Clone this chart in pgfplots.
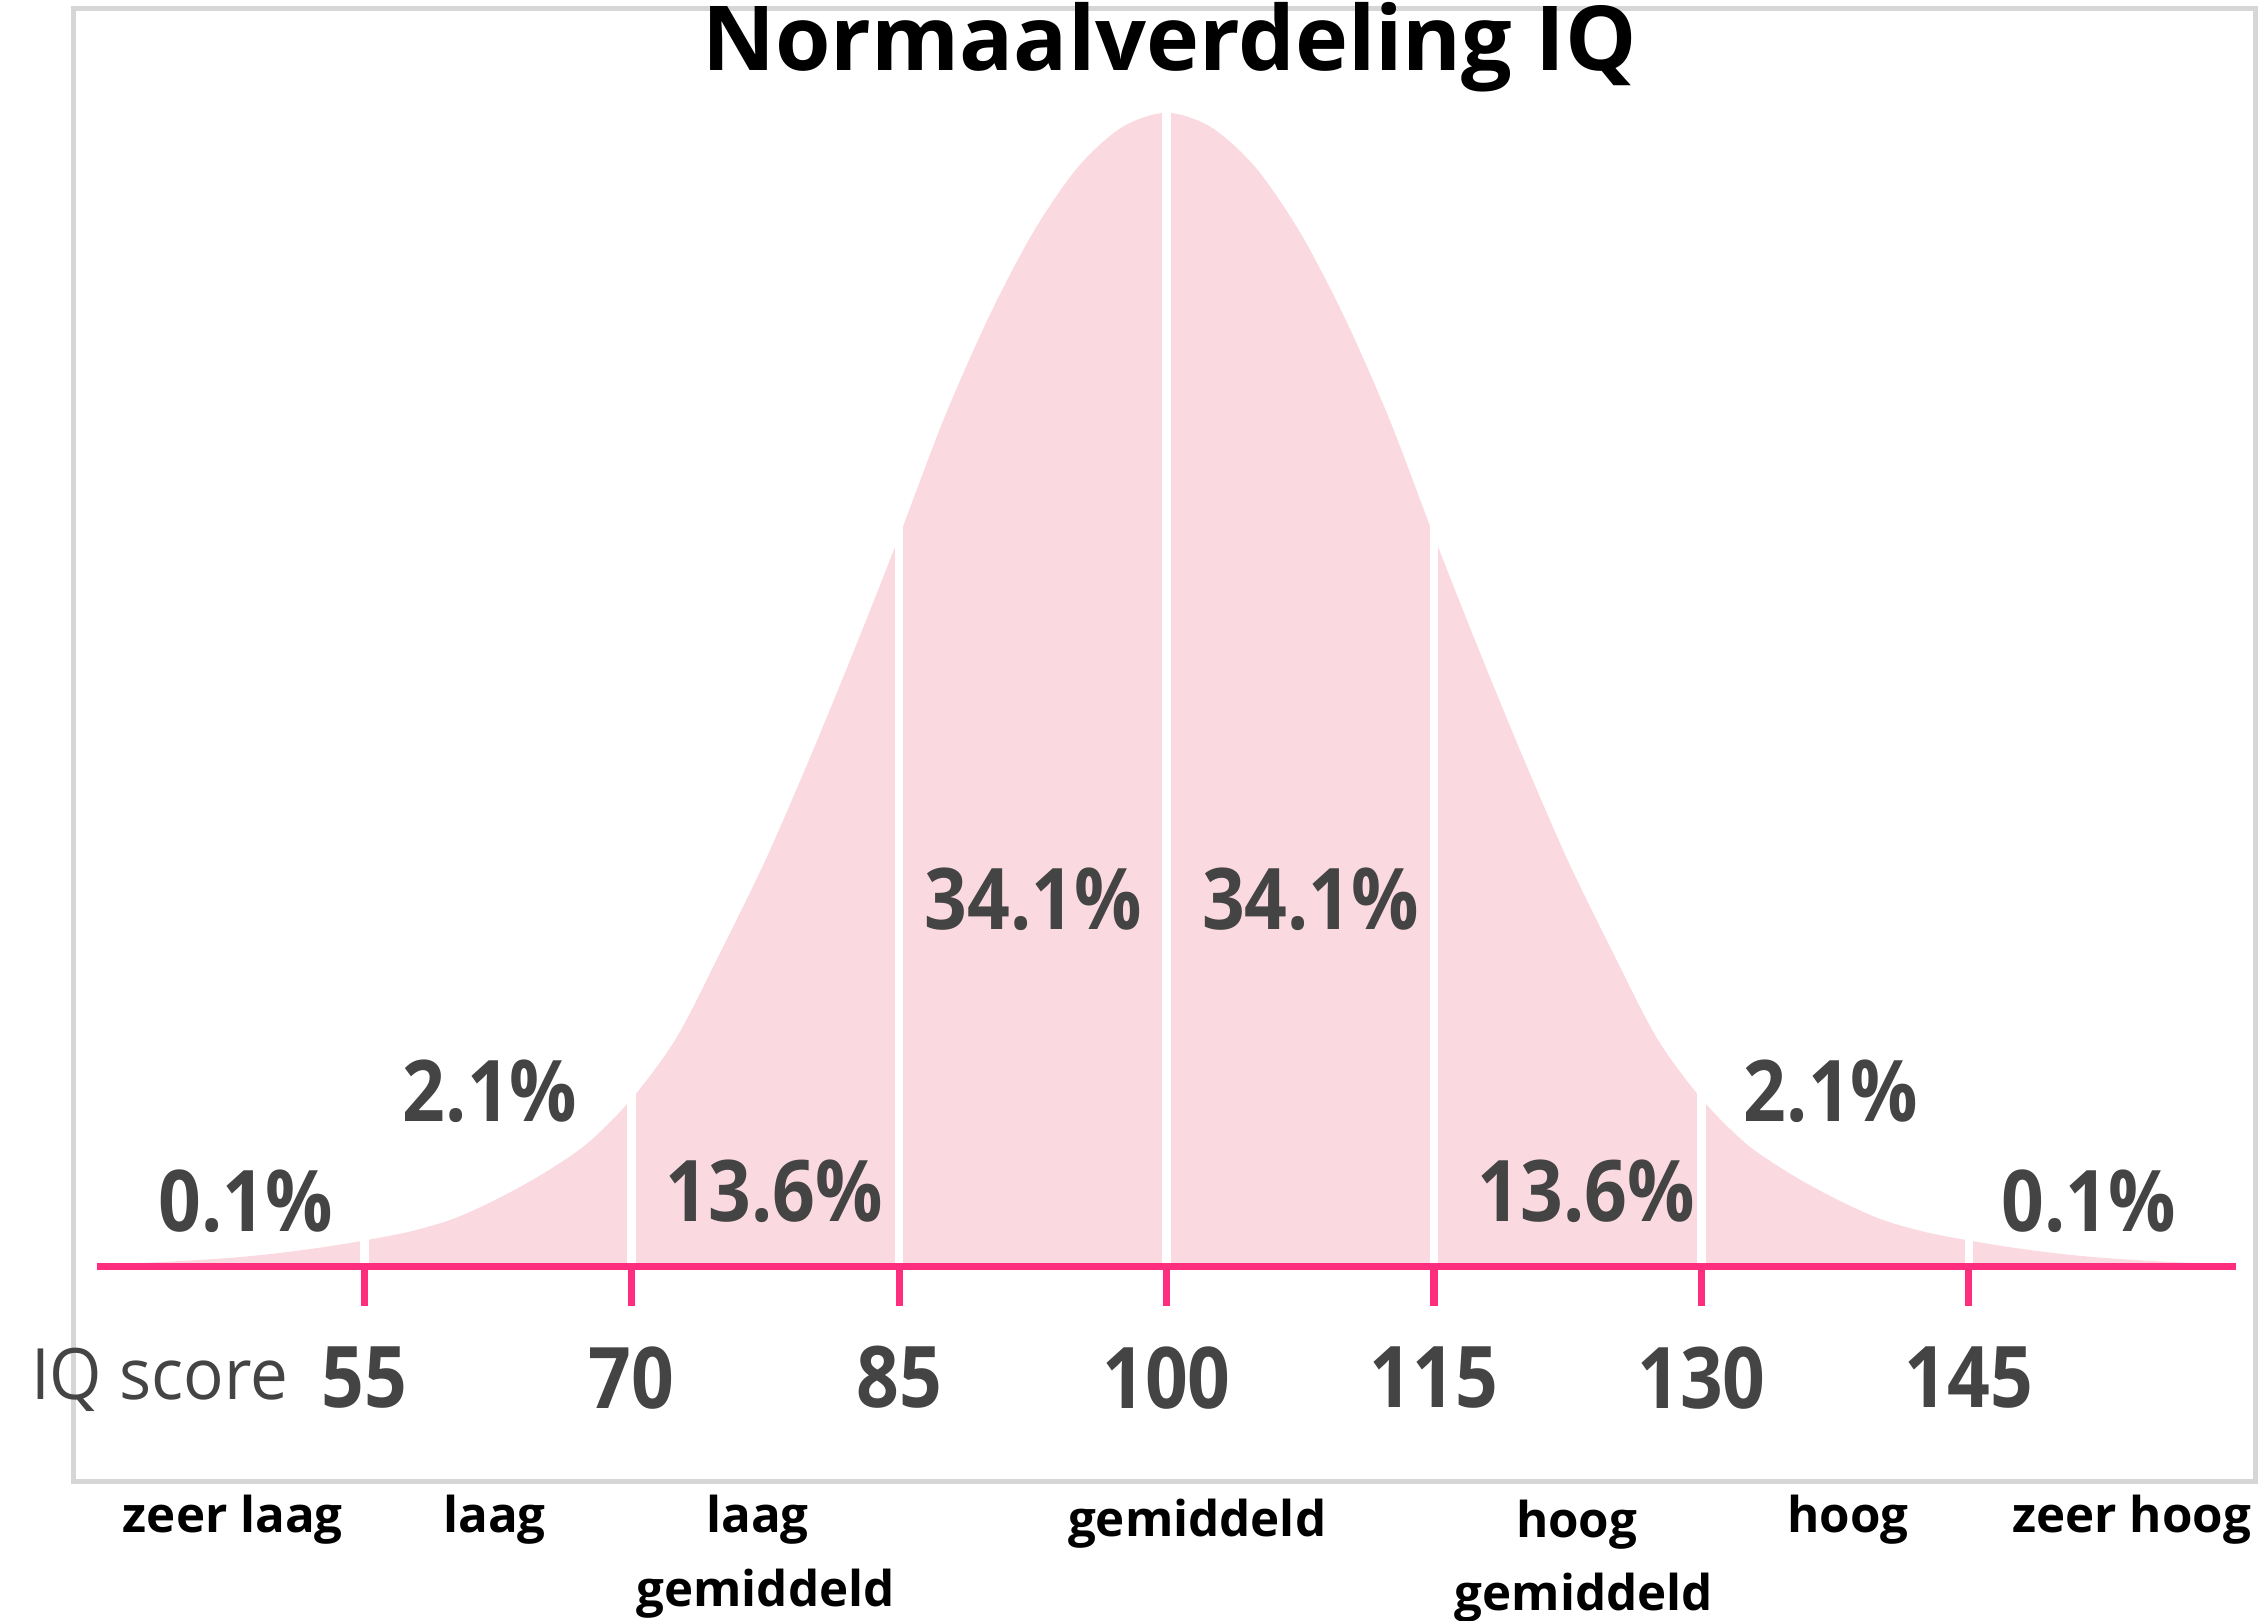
\documentclass[border=0pt]{standalone}
\usepackage{pgfplots}
\pgfplotsset{compat=1.18}
\usepackage{pgfplotstable}
\usepackage{fontspec}
\setmainfont{Open Sans}
\newfontfamily\grayfont[FakeStretch=0.88]{Open Sans}
\newfontfamily\scorefont[FakeStretch=0.95]{Open Sans}
\definecolor{curvefill}{RGB}{250,218,224}
\definecolor{basepink}{RGB}{255,45,125}
\definecolor{labelgray}{RGB}{68,68,68}
\definecolor{framegray}{RGB}{214,214,214}

% IQ score, curve height (in pixels of the reference above the base line)
\pgfplotstableread{
x h
40 1.5
42.5 2.5
45 4
47.5 6
50 9
52.5 13
55 18
57.5 24
60 33
62.5 47
65 64
67.5 85
70 116
72.5 158
75 218
77.5 281
80 352
82.5 427
85 505
87.5 586
90 656
92.5 715
95 760
97.5 788
100 798
102.5 788
105 760
107.5 715
110 656
112.5 586
115 505
117.5 427
120 352
122.5 281
125 218
127.5 158
130 116
132.5 85
135 64
137.5 47
140 33
142.5 24
145 18
147.5 13
150 9
152.5 6
155 4
157.5 2.5
160 1.5
}\curve

\newcommand{\pct}[1]{{\grayfont\bfseries\fontsize{33.5}{36}\selectfont\color{labelgray}#1}}
\newcommand{\cat}[1]{{\bfseries\fontsize{19.4}{22}\selectfont\color{black}#1}}

\begin{document}
\begin{tikzpicture}
\begin{axis}[
  x=0.246667cm, y=0.02cm,
  xmin=40, xmax=160, ymin=0, ymax=800,
  axis x line*=bottom, axis y line=none,
  axis line style={basepink, line width=0.1cm},
  xtick={55,70,85,100,115,130,145},
  ytick=\empty,
  tick align=outside,
  major tick length=0.54cm,
  tick style={basepink, line width=0.1cm},
  /pgf/number format/assume math mode=true,
  xticklabel style={font=\grayfont\bfseries\fontsize{33.5}{36}\selectfont, text=labelgray, anchor=north, yshift=-0.44cm},
  axis on top,
  clip=false,
]
\addplot[draw=none, fill=curvefill, smooth] table[x=x, y=h]{\curve} \closedcycle;
\addplot[ycomb, draw=white, line width=0.12cm, mark=none]
  coordinates {(55,22) (70,122) (85,515) (100,800) (115,515) (130,122) (145,22)};
\coordinate (TL) at (axis cs:34.5675,876);
\end{axis}
\begin{scope}[shift={(TL)}, x=0.02cm, y=-0.02cm]
  \draw[framegray, line width=0.07cm] (51,6) rectangle (1560,1025);
  % title
  \node[anchor=base, inner sep=0pt] at (809,48.5) {\bfseries\fontsize{35.3}{40}\selectfont Normaalverdeling IQ};
  % percentages
  \node[anchor=base, inner sep=0pt] at (714.5,643) {\pct{34.1\%}};
  \node[anchor=base, inner sep=0pt] at (906.5,643) {\pct{34.1\%}};
  \node[anchor=base, inner sep=0pt] at (339,776) {\pct{2.1\%}};
  \node[anchor=base, inner sep=0pt] at (1266.5,776) {\pct{2.1\%}};
  \node[anchor=base, inner sep=0pt] at (535.5,845) {\pct{13.6\%}};
  \node[anchor=base, inner sep=0pt] at (1097,845) {\pct{13.6\%}};
  \node[anchor=base, inner sep=0pt] at (170,852) {\pct{0.1\%}};
  \node[anchor=base, inner sep=0pt] at (1444.5,852) {\pct{0.1\%}};
  % axis name
  \node[anchor=base, inner sep=0pt] at (110.5,968) {\scorefont\fontsize{27.9}{30}\selectfont\color{labelgray}IQ score};
  % categories
  \node[anchor=base, inner sep=0pt] at (161,1060) {\cat{zeer laag}};
  \node[anchor=base, inner sep=0pt] at (342,1060) {\cat{laag}};
  \node[anchor=base, inner sep=0pt] at (524,1060) {\cat{laag}};
  \node[anchor=base, inner sep=0pt] at (529.5,1111) {\cat{gemiddeld}};
  \node[anchor=base, inner sep=0pt] at (828,1063) {\cat{gemiddeld}};
  \node[anchor=base, inner sep=0pt] at (1090.5,1063.5) {\cat{hoog}};
  \node[anchor=base, inner sep=0pt] at (1095.5,1114) {\cat{gemiddeld}};
  \node[anchor=base, inner sep=0pt] at (1278,1060) {\cat{hoog}};
  \node[anchor=base, inner sep=0pt] at (1474.5,1060) {\cat{zeer hoog}};
  \pgfresetboundingbox
  \useasboundingbox (0,0) rectangle (1568,1121);
\end{scope}
\end{tikzpicture}
\end{document}
